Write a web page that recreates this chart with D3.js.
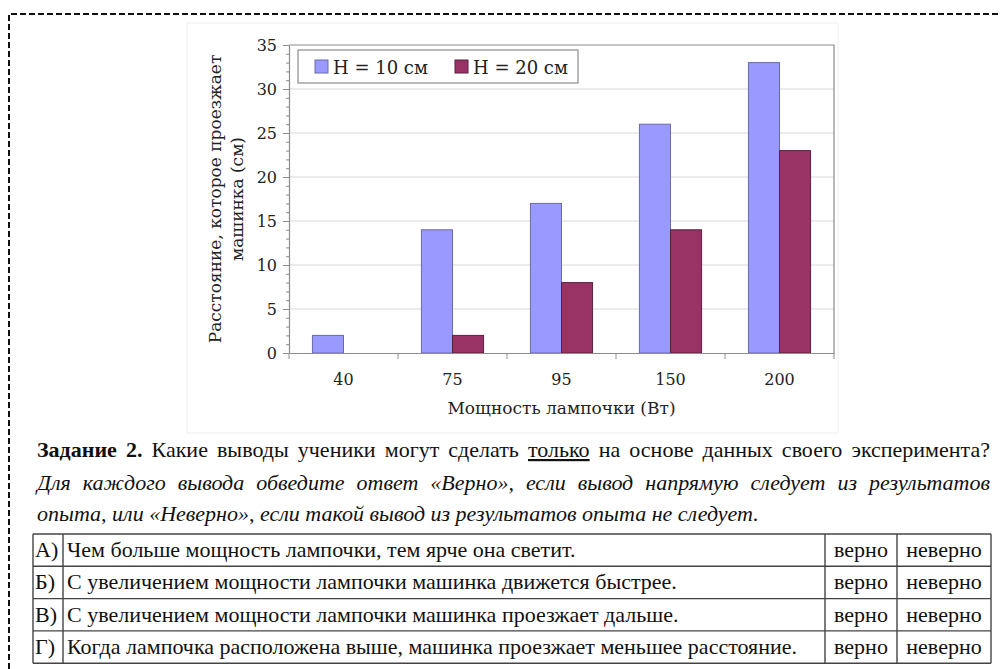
<!DOCTYPE html>
<html>
<head>
<meta charset="utf-8">
<script src="https://cdn.jsdelivr.net/npm/d3@7/dist/d3.min.js"></script>
<style>
  html, body { margin: 0; padding: 0; background: #fff; }
  svg { display: block; }
  .cf { font-family: "DejaVu Serif", "Liberation Serif", serif; }
  .tf { font-family: "Liberation Serif", "DejaVu Serif", "Times New Roman", serif; }
  .itf { font-family: "Liberation Serif", "Liberation Sans", Arial, sans-serif; }
</style>
</head>
<body>
<svg id="chart" width="1002" height="669"></svg>
<script>
// ---------- DATA ----------
const categories = ["40", "75", "95", "150", "200"];
const seriesNames = ["H = 10 см", "H = 20 см"];
const h10 = [2, 14, 17, 26, 33];
const h20 = [0, 2, 8, 14, 23];
const yTicks = [0, 5, 10, 15, 20, 25, 30, 35];
const yTitleLines = ["Расстояние, которое проезжает", "машинка (см)"];
const xTitle = "Мощность лампочки (Вт)";
const taskBold = "Задание 2.";
const taskPre = " Какие выводы ученики могут сделать ";
const taskUnder = "только";
const taskPost = " на основе данных своего эксперимента?";
const italicLines = [
  "Для каждого вывода обведите ответ «Верно», если вывод напрямую следует из результатов",
  "опыта, или «Неверно», если такой вывод из результатов опыта не следует."
];
const rowLetters = ["А)", "Б)", "В)", "Г)"];
const rowTexts = [
  "Чем больше мощность лампочки, тем ярче она светит.",
  "С увеличением мощности лампочки машинка движется быстрее.",
  "С увеличением мощности лампочки машинка проезжает дальше.",
  "Когда лампочка расположена выше, машинка проезжает меньшее расстояние."
];
const answerTrue = "верно";
const answerFalse = "неверно";
const colors = ["#9999ff", "#993366"];
const strokes = ["#6a6aa8", "#5a2040"];

// ---------- LAYOUT ----------
const svg = d3.select("#chart");
const plot = { left: 289, right: 834, top: 45, bottom: 353 };

svg.append("path")
  .attr("d", "M9,669 L9,14 L1001,14")
  .attr("fill", "none").attr("stroke", "#111")
  .attr("stroke-width", 2).attr("stroke-dasharray", "6,3");

svg.append("rect").attr("x", 187).attr("y", 23).attr("width", 651).attr("height", 410)
  .attr("fill", "none").attr("stroke", "#eeeeee");

const x = d3.scaleBand().domain(categories).range([plot.left, plot.right]).padding(0);
const x1 = d3.scaleBand().domain(seriesNames)
  .range([x.bandwidth() * 0.215, x.bandwidth() * 0.785]).padding(0);
const y = d3.scaleLinear().domain([0, 35]).range([plot.bottom, plot.top]);

svg.append("g").selectAll("line").data(yTicks.filter(d => d > 0 && d < 35)).join("line")
  .attr("x1", plot.left).attr("x2", plot.right)
  .attr("y1", d => y(d)).attr("y2", d => y(d))
  .attr("stroke", "#d8d8d8").attr("stroke-width", 1);

svg.append("path")
  .attr("d", `M${plot.left},${y(35)} L${plot.right},${y(35)} L${plot.right},${y(0)}`)
  .attr("fill", "none").attr("stroke", "#8c8c8c").attr("stroke-width", 1.2);

const series = [h10, h20];
const groups = svg.append("g").selectAll("g").data(categories).join("g")
  .attr("transform", c => `translate(${x(c)},0)`);
groups.selectAll("rect")
  .data((c, i) => series.map((s, k) => ({ name: seriesNames[k], k, v: s[i] })))
  .join("rect")
  .attr("x", d => x1(d.name))
  .attr("width", x1.bandwidth())
  .attr("y", d => y(d.v))
  .attr("height", d => y(0) - y(d.v))
  .attr("fill", d => colors[d.k])
  .attr("stroke", d => strokes[d.k])
  .attr("stroke-width", 1)
  .attr("visibility", d => d.v > 0 ? "visible" : "hidden");

const yMinor = svg.append("g").attr("transform", `translate(${plot.left},0)`)
  .call(d3.axisLeft(y).ticks(35).tickSize(3).tickFormat(""));
yMinor.select(".domain").remove();
yMinor.selectAll("line").attr("stroke", "#8c8c8c");

const yAxis = svg.append("g").attr("transform", `translate(${plot.left},0)`)
  .call(d3.axisLeft(y).tickValues(yTicks).tickSize(6).tickPadding(6).tickSizeOuter(0));
yAxis.attr("font-family", null).attr("font-size", null);
yAxis.select(".domain").attr("stroke", "#8c8c8c").attr("stroke-width", 1.2);
yAxis.selectAll("line").attr("stroke", "#8c8c8c");
yAxis.selectAll("text").attr("class", "cf").attr("font-size", 16).attr("fill", "#222");

const xAxis = svg.append("g").attr("transform", `translate(0,${plot.bottom})`)
  .call(d3.axisBottom(x).tickSize(0).tickPadding(21));
xAxis.attr("font-family", null).attr("font-size", null);
xAxis.select(".domain").attr("stroke", "#8c8c8c").attr("stroke-width", 1.2);
xAxis.selectAll("text").attr("class", "cf").attr("font-size", 16).attr("fill", "#222");

const bounds = categories.map(c => x(c)).concat([x.range()[1]]);
svg.append("g").selectAll("line").data(bounds).join("line")
  .attr("x1", d => d).attr("x2", d => d)
  .attr("y1", plot.bottom).attr("y2", plot.bottom + 6)
  .attr("stroke", "#8c8c8c");

svg.append("text").attr("class", "cf").attr("x", (plot.left + plot.right) / 2).attr("y", 414)
  .attr("text-anchor", "middle").attr("font-size", 17)
  .attr("fill", "#222").text(xTitle);

const yMid = (plot.top + plot.bottom) / 2;
[221, 243].forEach((bx, i) => {
  svg.append("text").attr("class", "cf")
    .attr("transform", `translate(${bx},${yMid}) rotate(-90)`)
    .attr("text-anchor", "middle").attr("font-size", 17)
    .attr("fill", "#222").text(yTitleLines[i]);
});

svg.append("rect").attr("x", 298).attr("y", 50).attr("width", 280).attr("height", 33)
  .attr("fill", "#fff").attr("stroke", "#8c8c8c").attr("stroke-width", 1.2);
const legX = [315, 455];
seriesNames.forEach((n, k) => {
  svg.append("rect").attr("x", legX[k]).attr("y", 60).attr("width", 13).attr("height", 13)
    .attr("fill", colors[k]).attr("stroke", strokes[k]);
  svg.append("text").attr("class", "cf").attr("x", legX[k] + 18).attr("y", 73.5)
    .attr("font-size", 18).attr("fill", "#222").text(n);
});

// ---------- TEXT BLOCK ----------
const tFS = 22;
const left = 37, right = 990;
function justify(sel, width) {
  const nat = sel.node().getComputedTextLength();
  const txt = sel.text();
  const spaces = (txt.match(/ /g) || []).length;
  if (spaces > 0) sel.attr("word-spacing", (width - nat) / spaces);
}
const t1 = svg.append("text").attr("class", "tf").attr("x", left).attr("y", 457)
  .attr("font-size", tFS).attr("fill", "#111");
t1.append("tspan").attr("font-weight", "bold").text(taskBold);
t1.append("tspan").text(taskPre);
t1.append("tspan").attr("text-decoration", "underline").text(taskUnder);
t1.append("tspan").text(taskPost);
justify(t1, right - left);

const it1 = svg.append("text").attr("class", "itf").attr("x", left).attr("y", 490)
  .attr("font-size", tFS).attr("font-style", "italic")
  .attr("fill", "#111").text(italicLines[0]);
justify(it1, right - left);
svg.append("text").attr("class", "itf").attr("x", left).attr("y", 521)
  .attr("font-size", tFS).attr("font-style", "italic")
  .attr("fill", "#111").text(italicLines[1]);

const cols = [33, 63, 825, 897, 991];
const tTop = 534, rowH = 32.3;
const tb = svg.append("g");
rowLetters.forEach((l, i) => {
  const yy = tTop + i * rowH;
  tb.append("text").attr("class", "tf").attr("x", cols[0] + 2).attr("y", yy + 23)
    .attr("font-size", tFS).attr("fill", "#111").text(l);
  tb.append("text").attr("class", "tf").attr("x", cols[1] + 4).attr("y", yy + 23)
    .attr("font-size", tFS).attr("fill", "#111").text(rowTexts[i]);
  tb.append("text").attr("class", "tf").attr("x", (cols[2] + cols[3]) / 2).attr("y", yy + 23).attr("text-anchor", "middle")
    .attr("font-size", tFS).attr("fill", "#111").text(answerTrue);
  tb.append("text").attr("class", "tf").attr("x", (cols[3] + cols[4]) / 2).attr("y", yy + 23).attr("text-anchor", "middle")
    .attr("font-size", tFS).attr("fill", "#111").text(answerFalse);
});
d3.range(rowLetters.length + 1).forEach(i => {
  tb.append("line").attr("x1", cols[0]).attr("x2", cols[4])
    .attr("y1", tTop + i * rowH).attr("y2", tTop + i * rowH)
    .attr("stroke", "#444").attr("stroke-width", 1.4);
});
cols.forEach(cx => {
  tb.append("line").attr("x1", cx).attr("x2", cx)
    .attr("y1", tTop).attr("y2", tTop + rowLetters.length * rowH)
    .attr("stroke", "#444").attr("stroke-width", 1.4);
});
</script>
</body>
</html>
